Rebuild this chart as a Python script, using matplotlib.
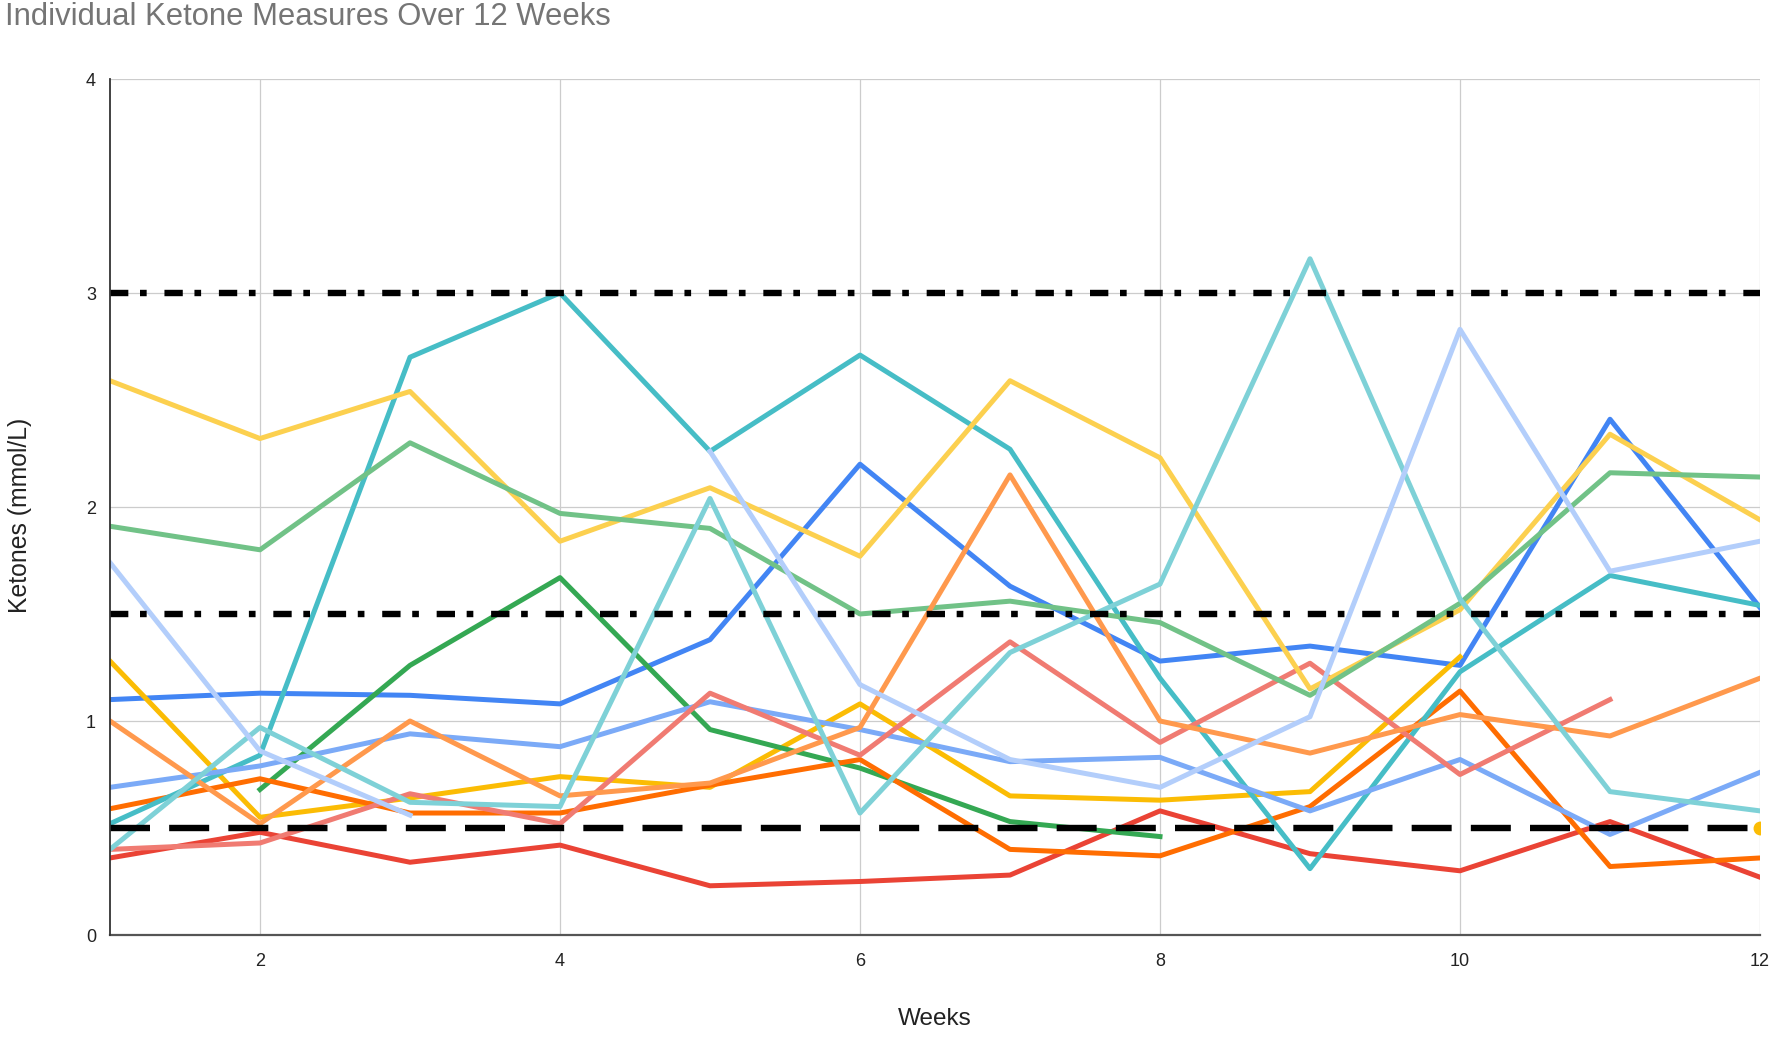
import numpy as np
import matplotlib
matplotlib.use("Agg")
import matplotlib.pyplot as plt

plt.rcParams['font.family'] = ['Liberation Sans', 'DejaVu Sans']
plt.rcParams['lines.scale_dashes'] = False

nan = np.nan
weeks = list(range(1, 13))

# one series per participant (Google Sheets default palette order)
blue = [1.10, 1.13, 1.12, 1.08, 1.38, 2.20, 1.63, 1.28, 1.35, 1.26, 2.41, 1.53]
red = [0.36, 0.48, 0.34, 0.42, 0.23, 0.25, 0.28, 0.58, 0.38, 0.30, 0.53, 0.27]
yellow = [1.28, 0.55, 0.64, 0.74, 0.69, 1.08, 0.65, 0.63, 0.67, 1.30, nan, 0.50]
green = [nan, 0.68, 1.26, 1.67, 0.96, 0.78, 0.53, 0.46, nan, nan, nan, nan]
orange = [0.59, 0.73, 0.57, 0.57, 0.70, 0.82, 0.40, 0.37, 0.60, 1.14, 0.32, 0.36]
teal = [0.52, 0.84, 2.70, 3.00, 2.26, 2.71, 2.27, 1.20, 0.31, 1.23, 1.68, 1.54]
light_blue = [0.69, 0.79, 0.94, 0.88, 1.09, 0.96, 0.81, 0.83, 0.58, 0.82, 0.47, 0.76]
light_red = [0.40, 0.43, 0.66, 0.52, 1.13, 0.84, 1.37, 0.90, 1.27, 0.75, 1.10, nan]
light_yellow = [2.59, 2.32, 2.54, 1.84, 2.09, 1.77, 2.59, 2.23, 1.15, 1.52, 2.34, 1.94]
light_green = [1.91, 1.80, 2.30, 1.97, 1.90, 1.50, 1.56, 1.46, 1.12, 1.55, 2.16, 2.14]
light_orange = [1.00, 0.52, 1.00, 0.65, 0.71, 0.97, 2.15, 1.00, 0.85, 1.03, 0.93, 1.20]
light_teal = [0.40, 0.97, 0.62, 0.60, 2.04, 0.57, 1.32, 1.64, 3.16, 1.57, 0.67, 0.58]
pale_blue = [1.74, 0.86, 0.56, nan, 2.26, 1.17, 0.82, 0.69, 1.02, 2.83, 1.70, 1.84]

series = [blue, red, yellow, green, orange, teal, light_blue, light_red,
          light_yellow, light_green, light_orange, light_teal, pale_blue]
colors = ['#4285F4', '#EA4335', '#FBBC04', '#34A853', '#FF6D01', '#46BDC6',
          '#7BAAF7', '#F07B72', '#FCD04F', '#71C287', '#FF994D', '#7ED1D7',
          '#B3CEFB']

# reference levels
upper_ref = 3.0
mid_ref = 1.5
low_ref = 0.5

fig = plt.figure(figsize=(17.72, 10.37), dpi=100)
ax = fig.add_axes([110 / 1772, 1 - 935 / 1037, 1650 / 1772, 856 / 1037])

for vals, c in zip(series, colors):
    y = np.array(vals, dtype=float)
    ax.plot(weeks, y, color=c, lw=3.6, zorder=3)
    # isolated points get a dot, as in the sheet chart
    ok = ~np.isnan(y)
    prev_ok = np.r_[False, ok[:-1]]
    next_ok = np.r_[ok[1:], False]
    lone = ok & ~prev_ok & ~next_ok
    if lone.any():
        ax.plot(np.array(weeks)[lone], y[lone], 'o', color=c, ms=9, zorder=3)

dashdot = (0, (13.2, 8.4, 4.8, 12.8))
ax.axhline(upper_ref, color='black', lw=4.6, linestyle=dashdot, zorder=4)
ax.axhline(mid_ref, color='black', lw=4.6, linestyle=dashdot, zorder=4)
ax.axhline(low_ref, color='black', lw=4.6, linestyle=(0, (28.8, 13.8)), zorder=4)

ax.set_xlim(1, 12)
ax.set_ylim(0, 4)
ax.set_xticks([2, 4, 6, 8, 10, 12])
ax.set_yticks([0, 1, 2, 3, 4])
ax.grid(True, color='#cccccc', lw=0.9, zorder=0)
ax.tick_params(length=0, labelsize=13, colors='#222222')
ax.tick_params(axis='x', pad=13)
ax.tick_params(axis='y', pad=10)
for s in ['top', 'right']:
    ax.spines[s].set_visible(False)
ax.spines['left'].set_color('#333333')
ax.spines['bottom'].set_color('#555555')
ax.spines['left'].set_linewidth(1.3)
ax.spines['bottom'].set_linewidth(1.6)
ax.spines['left'].set_zorder(5)

fig.text(5 / 1772, 1 - 17 / 1037, 'Individual Ketone Measures Over 12 Weeks',
         fontsize=22.3, color='#757575', ha='left', va='center')
fig.text(0.5 * (110 + 1760) / 1772, 1 - 1019 / 1037, 'Weeks',
         fontsize=17.5, color='#222222', ha='center', va='center')
fig.text(20 / 1772, 1 - 515 / 1037, 'Ketones (mmol/L)', rotation=90,
         fontsize=17.8, color='#222222', ha='center', va='center')

fig.savefig('out.png', dpi=100, facecolor='white')
